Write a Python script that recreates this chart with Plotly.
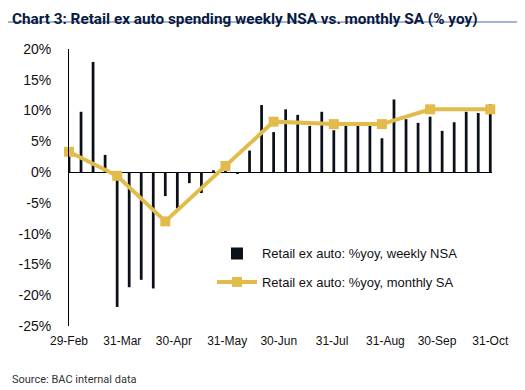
import plotly.graph_objects as go

weeks = ["2020-02-29", "2020-03-07", "2020-03-14", "2020-03-21", "2020-03-28",
         "2020-04-04", "2020-04-11", "2020-04-18", "2020-04-25", "2020-05-02",
         "2020-05-09", "2020-05-16", "2020-05-23", "2020-05-30", "2020-06-06",
         "2020-06-13", "2020-06-20", "2020-06-27", "2020-07-04", "2020-07-11",
         "2020-07-18", "2020-07-25", "2020-08-01", "2020-08-08", "2020-08-15",
         "2020-08-22", "2020-08-29", "2020-09-05", "2020-09-12", "2020-09-19",
         "2020-09-26", "2020-10-03", "2020-10-10", "2020-10-17", "2020-10-24",
         "2020-10-31"]
weekly_nsa = [3.0, 9.8, 17.9, 2.8, -21.9, -18.7, -17.5, -18.9, -3.9, -5.9,
              -1.8, -3.4, 0.3, 0.3, -0.3, 3.5, 10.9, 6.5, 10.2, 9.3,
              7.5, 9.8, 6.8, 8.1, 8.0, 8.1, 5.5, 11.8, 8.6, 8.0,
              9.0, 6.7, 8.1, 9.8, 9.6, 11.0]

monthly_dates = ["2020-02-29", "2020-03-28", "2020-04-25", "2020-05-30", "2020-06-27",
                 "2020-08-01", "2020-08-29", "2020-09-26", "2020-10-31"]
monthly_sa = [3.3, -0.6, -8.0, 1.0, 8.2, 7.8, 7.8, 10.2, 10.2]

tick_dates = ["2020-02-29", "2020-03-31", "2020-04-30", "2020-05-31", "2020-06-30",
              "2020-07-31", "2020-08-31", "2020-09-30", "2020-10-31"]
tick_labels = ["29-Feb", "31-Mar", "30-Apr", "31-May", "30-Jun",
               "31-Jul", "31-Aug", "30-Sep", "31-Oct"]
y_ticks = [20, 15, 10, 5, 0, -5, -10, -15, -20, -25]
y_labels = [f"{v}%" for v in y_ticks]

GOLD = "#E2BC4B"
FONT = "Liberation Sans, Arial, sans-serif"

fig = go.Figure()
fig.add_trace(go.Bar(
    x=weeks, y=weekly_nsa, name="Retail ex auto: %yoy, weekly NSA",
    marker=dict(color="#0b0f1a", line=dict(width=0)),
    width=1.6 * 86400000, legend="legend",
))
fig.add_trace(go.Scatter(
    x=monthly_dates, y=monthly_sa, name="Retail ex auto: %yoy, monthly SA",
    mode="lines+markers", line=dict(color=GOLD, width=4),
    marker=dict(symbol="square", size=10, color=GOLD), legend="legend2",
    cliponaxis=False,
))

fig.update_layout(
    width=525, height=390,
    margin=dict(l=61, r=41, t=41, b=72),
    paper_bgcolor="white", plot_bgcolor="white",
    font=dict(family=FONT, color="#111111"),
    showlegend=True,
    legend=dict(x=0.338, y=0.262, xanchor="left", yanchor="middle",
                font=dict(size=13, color="#111111"), bgcolor="rgba(0,0,0,0)",
                itemwidth=40),
    legend2=dict(x=0.338, y=0.159, xanchor="left", yanchor="middle",
                 font=dict(size=13, color="#111111"), bgcolor="rgba(0,0,0,0)",
                 itemwidth=40),
    xaxis=dict(
        type="date", range=["2020-02-29", "2020-11-01"],
        tickvals=tick_dates, ticktext=tick_labels,
        tickfont=dict(size=12, color="#111111"),
        showgrid=False, showline=False, zeroline=False, ticks="",
        ticklabelstandoff=6, automargin=False,
    ),
    yaxis=dict(
        range=[-25, 20], tickvals=y_ticks, ticktext=y_labels,
        tickfont=dict(size=14, color="#111111"),
        showgrid=False, showline=True, linecolor="black", linewidth=1,
        zeroline=True, zerolinecolor="black", zerolinewidth=1,
        ticks="", ticklabelstandoff=14, automargin=False,
    ),
    annotations=[
        dict(text="<b>Chart 3: Retail ex auto spending weekly NSA vs. monthly SA (% yoy)</b>",
             xref="paper", yref="paper", x=0, y=1, xanchor="left", yanchor="bottom",
             xshift=-59, yshift=19, showarrow=False,
             font=dict(family="Roboto, sans-serif", size=15.3, color="#0a1a40")),
        dict(text="Source: BAC internal data", xref="paper", yref="paper",
             x=0, y=0, xanchor="left", yanchor="middle", xshift=-59, yshift=-53,
             showarrow=False,
             font=dict(family="Roboto, sans-serif", size=11, color="#333333")),
    ],
    shapes=[dict(type="line", xref="paper", yref="paper", x0=-0.15, x1=1.07,
                 y0=1 + 27 / 277, y1=1 + 27 / 277,
                 line=dict(color="#4a6fa8", width=1.2))],
)

fig.write_html("out.html")
